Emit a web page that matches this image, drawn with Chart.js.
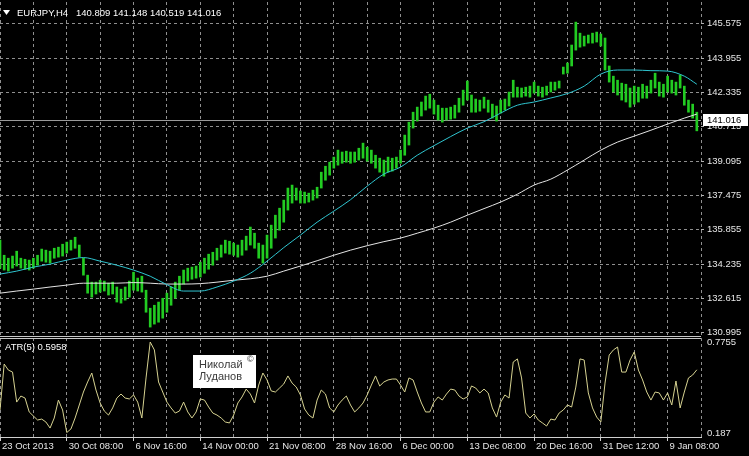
<!DOCTYPE html>
<html>
<head>
<meta charset="utf-8">
<script src="https://cdn.jsdelivr.net/npm/chart.js@4.4.0/dist/chart.umd.min.js"></script>
<style>
  html, body { margin: 0; padding: 0; background: #000; }
</style>
</head>
<body>
<canvas id="chart" width="749" height="456"></canvas>
<script>
// EURJPY H4, one slot = two H4 bars
const symbol = 'EURJPY,H4';
const lastBar = [140.809, 141.148, 140.519, 141.016]; // O H L C
const dateLabels = ['23 Oct 2013', '30 Oct 08:00', '6 Nov 16:00', '14 Nov 00:00', '21 Nov 08:00',
  '28 Nov 16:00', '6 Dec 00:00', '13 Dec 08:00', '20 Dec 16:00', '31 Dec 12:00', '9 Jan 08:00'];
const priceTicks = [130.995, 132.615, 134.235, 135.855, 137.475, 139.095, 140.715, 142.335, 143.955, 145.575];
const atrTicks = [0.187, 0.7755];

const highs = [
  135.36, 134.65, 134.51, 134.61, 134.84, 134.51, 134.46, 134.42, 134.51, 134.65,
  134.94, 134.89, 134.84, 134.98, 135.03, 135.17, 135.27, 135.36, 135.50, 135.13,
  134.51, 133.71, 133.38, 133.38, 133.47, 133.43, 133.33, 133.38, 133.15, 133.05,
  133.15, 133.43, 133.85, 133.57, 133.66, 133.00, 132.15, 132.29, 132.44, 132.62,
  132.86, 133.15, 133.38, 133.66, 133.95, 134.04, 134.09, 134.14, 134.32, 134.51,
  134.70, 134.79, 134.98, 135.13, 135.36, 135.31, 135.22, 135.13, 135.36, 135.55,
  135.98, 135.69, 135.22, 135.13, 135.60, 136.07, 136.54, 136.87, 137.25, 137.82,
  137.96, 137.82, 137.68, 137.63, 137.58, 137.72, 137.86, 138.57, 138.85, 139.04,
  139.28, 139.61, 139.52, 139.56, 139.52, 139.52, 139.70, 139.94, 139.75, 139.61,
  139.37, 139.23, 139.14, 139.28, 139.23, 139.28, 139.61, 140.32, 140.93, 141.40,
  141.64, 141.88, 142.16, 142.25, 141.97, 141.73, 141.59, 141.59, 141.64, 141.73,
  142.06, 142.44, 142.87, 142.21, 142.02, 141.97, 142.11, 141.97, 141.78, 141.69,
  141.97, 142.02, 142.35, 142.91, 142.58, 142.54, 142.58, 142.63, 142.82, 142.63,
  142.58, 142.63, 142.82, 142.82, 142.87, 143.53, 143.72, 144.57, 145.65, 145.13,
  144.99, 145.04, 145.13, 145.18, 145.09, 144.90, 143.58, 143.10, 142.91, 142.77,
  142.72, 142.54, 142.63, 142.58, 142.72, 142.63, 142.91, 143.24, 142.82, 142.72,
  143.10, 142.91, 142.82, 143.15, 142.63, 141.97, 141.78, 141.40
];
const lows = [
  134.04, 133.95, 133.90, 134.04, 134.14, 134.04, 133.99, 133.95, 134.04, 134.18,
  134.37, 134.32, 134.28, 134.51, 134.56, 134.61, 134.75, 134.89, 134.98, 134.56,
  133.71, 132.86, 132.67, 132.82, 132.91, 132.96, 132.77, 132.82, 132.44, 132.39,
  132.53, 132.67, 133.00, 132.96, 132.91, 131.96, 131.26, 131.40, 131.49, 131.68,
  131.96, 132.29, 132.62, 133.00, 133.29, 133.43, 133.52, 133.57, 133.62, 133.80,
  133.99, 134.18, 134.42, 134.56, 134.75, 134.70, 134.65, 134.56, 134.65, 134.89,
  135.13, 134.98, 134.51, 134.28, 134.51, 134.98, 135.46, 135.83, 136.21, 136.78,
  137.11, 137.25, 137.11, 137.11, 137.16, 137.25, 137.35, 137.82, 138.19, 138.43,
  138.76, 138.90, 138.99, 139.04, 138.99, 139.04, 139.14, 139.23, 139.09, 138.99,
  138.76, 138.57, 138.38, 138.57, 138.62, 138.76, 138.99, 139.37, 139.85, 140.65,
  140.98, 141.22, 141.50, 141.59, 141.31, 141.03, 140.93, 141.03, 141.07, 141.12,
  141.40, 141.73, 141.97, 141.40, 141.40, 141.45, 141.59, 141.40, 141.12, 140.98,
  141.36, 141.50, 141.69, 142.11, 142.11, 142.11, 142.16, 142.11, 142.30, 142.16,
  142.11, 142.21, 142.35, 142.44, 142.54, 143.20, 143.24, 143.58, 144.33, 144.47,
  144.52, 144.66, 144.66, 144.71, 144.52, 143.39, 142.82, 142.35, 142.21, 141.97,
  141.88, 141.64, 141.78, 141.88, 142.06, 142.06, 142.30, 142.54, 142.16, 142.11,
  142.35, 142.30, 142.21, 142.54, 141.73, 141.40, 141.12, 140.52
];

// moving averages, read every 4th slot (last one at the final slot)
const maStep = 4;
const fastMa = [
  133.76, 133.90, 134.09, 134.23, 134.42, 134.54, 134.37, 134.18, 133.95, 133.66,
  133.26, 132.96, 132.96, 133.15, 133.43, 133.80, 134.37, 135.01, 135.60, 136.21,
  136.73, 137.27, 137.91, 138.48, 138.81, 139.37, 139.82, 140.25, 140.65, 140.95,
  141.36, 141.73, 141.88, 142.07, 142.28, 142.63, 143.20, 143.39, 143.39, 143.36,
  143.34, 143.10, 142.72
];
const slowMa = [
  132.86, 132.96, 133.05, 133.15, 133.24, 133.33, 133.33, 133.33, 133.36, 133.33,
  133.29, 133.29, 133.31, 133.38, 133.47, 133.54, 133.66, 133.90, 134.14, 134.39,
  134.65, 134.89, 135.10, 135.29, 135.46, 135.69, 135.93, 136.21, 136.54, 136.85,
  137.16, 137.53, 137.96, 138.24, 138.67, 139.14, 139.61, 139.99, 140.27, 140.55,
  140.84, 141.12, 141.31
];

const atr = [
  0.336, 0.633, 0.594, 0.581, 0.387, 0.426, 0.413, 0.323, 0.297, 0.271,
  0.277, 0.258, 0.219, 0.284, 0.400, 0.336, 0.190, 0.213, 0.284, 0.368,
  0.452, 0.517, 0.575, 0.465, 0.381, 0.329, 0.303, 0.349, 0.413, 0.439,
  0.413, 0.407, 0.433, 0.387, 0.284, 0.543, 0.7755, 0.724, 0.517, 0.452,
  0.387, 0.349, 0.316, 0.329, 0.387, 0.323, 0.284, 0.323, 0.407, 0.400,
  0.355, 0.316, 0.303, 0.284, 0.258, 0.252, 0.303, 0.381, 0.420, 0.471,
  0.439, 0.381, 0.497, 0.575, 0.530, 0.459, 0.452, 0.478, 0.504, 0.556,
  0.510, 0.484, 0.433, 0.342, 0.303, 0.284, 0.400, 0.465, 0.439, 0.349,
  0.323, 0.368, 0.400, 0.426, 0.368, 0.323, 0.349, 0.381, 0.433, 0.497,
  0.556, 0.491, 0.517, 0.530, 0.536, 0.536, 0.497, 0.452, 0.543, 0.530,
  0.452, 0.381, 0.323, 0.323, 0.387, 0.420, 0.400, 0.439, 0.471, 0.465,
  0.426, 0.407, 0.420, 0.491, 0.478, 0.446, 0.471, 0.446, 0.349, 0.290,
  0.387, 0.433, 0.413, 0.646, 0.666, 0.543, 0.316, 0.284, 0.310, 0.271,
  0.252, 0.232, 0.277, 0.271, 0.316, 0.336, 0.368, 0.355, 0.484, 0.666,
  0.659, 0.446, 0.349, 0.290, 0.258, 0.510, 0.691, 0.724, 0.743, 0.581,
  0.581, 0.659, 0.711, 0.594, 0.530, 0.452, 0.400, 0.452, 0.446, 0.400,
  0.446, 0.368, 0.523, 0.349, 0.452, 0.543, 0.562, 0.5958
];

const nBars = highs.length;
const slots = nBars + 1; // extra empty slot so the last grid line sits on the right edge
const labels = Array.from({length: slots}, (_, i) => i);

function spread(values) {
  const arr = new Array(slots).fill(null);
  values.forEach((v, k) => { arr[Math.min(k * maStep, nBars - 1)] = v; });
  return arr;
}

const FONT = 'Liberation Sans, Arial, sans-serif';
Chart.defaults.font.family = FONT;
Chart.defaults.font.size = 9.5;
Chart.defaults.color = '#e6e6e6';

// y axes: keep the plot right to the top/bottom edges
function fixY(s) {
  s.width = 48;
  s.paddingTop = 0;
  s.paddingBottom = 0;
}

const mtOverlay = {
  id: 'mtOverlay',
  beforeDatasetsDraw(chart) {
    const {ctx, chartArea, scales} = chart;
    const py = Math.round(scales.y.getPixelForValue(lastBar[3])) + 0.5;
    ctx.save();
    ctx.strokeStyle = '#9a9a9a';
    ctx.lineWidth = 1;
    ctx.beginPath();
    ctx.moveTo(chartArea.left, py);
    ctx.lineTo(chartArea.right, py);
    ctx.stroke();
    ctx.restore();
  },
  afterDraw(chart) {
    const {ctx, chartArea, scales} = chart;
    ctx.save();
    // window separator
    const sy = Math.round(scales.y.bottom);
    ctx.strokeStyle = '#c8c8c8';
    ctx.lineWidth = 1;
    ctx.beginPath();
    ctx.moveTo(chartArea.left, sy - 1.5); ctx.lineTo(chartArea.right, sy - 1.5);
    ctx.moveTo(chartArea.left, sy + 0.5); ctx.lineTo(chartArea.right, sy + 0.5);
    ctx.stroke();

    // title
    ctx.fillStyle = '#ffffff';
    ctx.beginPath();
    ctx.moveTo(3, 10); ctx.lineTo(10, 10); ctx.lineTo(6.5, 15);
    ctx.closePath();
    ctx.fill();
    ctx.font = '9.5px ' + FONT;
    ctx.textBaseline = 'middle';
    ctx.textAlign = 'left';
    ctx.fillText(symbol, 17, 13);
    ctx.fillText(lastBar.map(v => v.toFixed(3)).join(' '), 76, 13);

    // indicator name
    ctx.fillText('ATR(5) ' + atr[atr.length - 1].toFixed(4), 5, sy + 9);

    // current price tag
    const py = Math.round(scales.y.getPixelForValue(lastBar[3]));
    ctx.fillStyle = '#ffffff';
    ctx.fillRect(chartArea.right + 2, py - 6, 45, 12);
    ctx.fillStyle = '#000000';
    ctx.fillText(lastBar[3].toFixed(3), chartArea.right + 6, py + 0.5);

    // author stamp
    ctx.fillStyle = '#ffffff';
    ctx.fillRect(193, 355, 63, 33);
    ctx.fillStyle = '#3a3a3a';
    ctx.font = '11px ' + FONT;
    ctx.fillText('Николай', 199, 365);
    ctx.fillText('Луданов', 199, 377);
    ctx.font = '9px ' + FONT;
    ctx.fillText('©', 247, 360);
    ctx.restore();
  }
};

new Chart(document.getElementById('chart'), {
  type: 'bar',
  data: {
    labels: labels,
    datasets: [
      {
        type: 'line',
        data: spread(fastMa),
        yAxisID: 'y',
        borderColor: '#2fc4cf',
        borderWidth: 1,
        pointRadius: 0,
        spanGaps: true,
        cubicInterpolationMode: 'monotone'
      },
      {
        type: 'line',
        data: spread(slowMa),
        yAxisID: 'y',
        borderColor: '#e4e4e4',
        borderWidth: 1,
        pointRadius: 0,
        spanGaps: true,
        cubicInterpolationMode: 'monotone'
      },
      {
        type: 'line',
        data: atr,
        yAxisID: 'y2',
        borderColor: '#d6d291',
        borderWidth: 1,
        pointRadius: 0
      },
      {
        type: 'bar',
        data: highs.map((h, i) => [lows[i], h]),
        yAxisID: 'y',
        backgroundColor: '#22cc22',
        borderWidth: 0,
        barThickness: 2
      }
    ]
  },
  options: {
    responsive: false,
    animation: false,
    events: [],
    layout: { padding: { top: 2, left: 0, right: 0, bottom: 0 } },
    plugins: { legend: { display: false }, tooltip: { enabled: false } },
    scales: {
      x: {
        type: 'category',
        offset: false,
        grid: {
          offset: false,
          color: ctx => ctx.index % 8 === 0 ? '#8f8f8f' : 'transparent',
          tickColor: ctx => ctx.index % 16 === 0 ? '#d0d0d0' : 'transparent',
          tickLength: 4,
          tickBorderDash: [1, 0]
        },
        border: { display: true, color: '#d0d0d0', dash: [3, 3] },
        ticks: {
          autoSkip: false,
          maxRotation: 0,
          align: 'start',
          labelOffset: 2,
          padding: 0,
          callback: (v, i) => i % 16 === 0 ? (dateLabels[i / 16] || '') : ''
        },
        afterFit: s => { s.height = 19; s.paddingLeft = 0; s.paddingRight = 0; }
      },
      y: {
        position: 'right',
        stack: 'mt',
        stackWeight: 336,
        min: 130.744,
        max: 146.60,
        afterBuildTicks: s => { s.ticks = priceTicks.map(v => ({value: v})); },
        grid: { color: '#8f8f8f', tickColor: '#b0b0b0', tickLength: 3, tickBorderDash: [1, 0] },
        border: { display: false, dash: [3, 3] },
        ticks: { padding: 3, callback: v => v.toFixed(3) },
        afterFit: fixY
      },
      y2: {
        position: 'right',
        stack: 'mt',
        stackWeight: 99,
        min: 0.1611,
        max: 0.8014,
        afterBuildTicks: s => { s.ticks = atrTicks.map(v => ({value: v})); },
        grid: { drawOnChartArea: false, tickColor: 'transparent', tickLength: 3 },
        border: { display: false },
        ticks: { padding: 3, callback: v => String(v) },
        afterFit: fixY
      }
    }
  },
  plugins: [mtOverlay]
});
</script>
</body>
</html>
